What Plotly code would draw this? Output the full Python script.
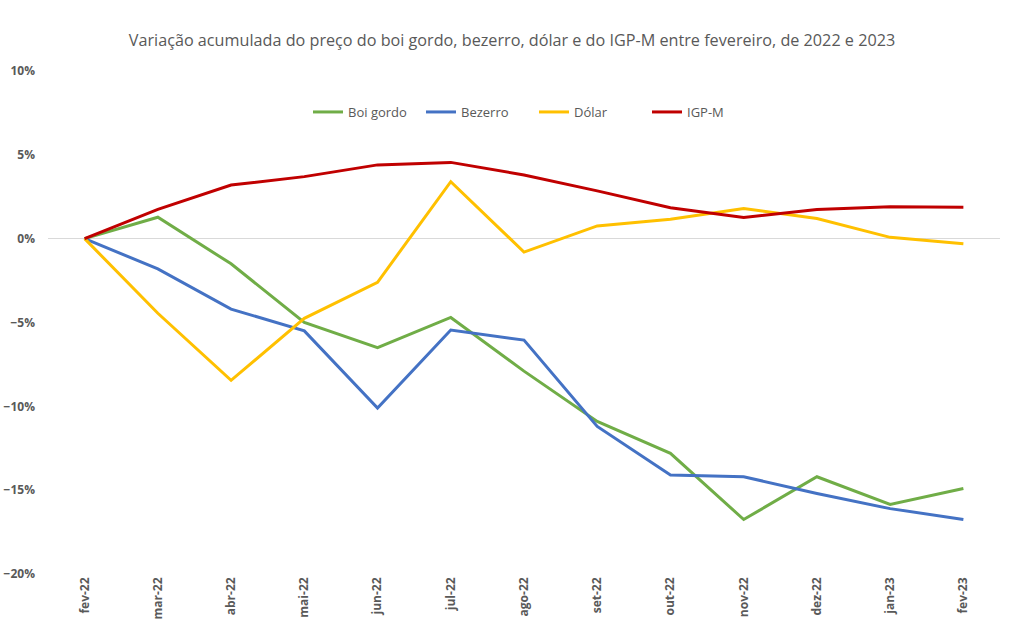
import plotly.graph_objects as go

categories = ["fev-22", "mar-22", "abr-22", "mai-22", "jun-22", "jul-22", "ago-22",
              "set-22", "out-22", "nov-22", "dez-22", "jan-23", "fev-23"]
boi_gordo = [0.0, 1.28, -1.5, -5.0, -6.5, -4.7, -7.9, -10.9, -12.8, -16.75, -14.2, -15.85, -14.9]
bezerro = [0.0, -1.8, -4.2, -5.5, -10.1, -5.45, -6.05, -11.2, -14.1, -14.2, -15.2, -16.1, -16.75]
dolar = [0.0, -4.45, -8.45, -4.75, -2.6, 3.4, -0.8, 0.76, 1.16, 1.8, 1.2, 0.08, -0.3]
igpm = [0.0, 1.75, 3.2, 3.7, 4.4, 4.55, 3.8, 2.85, 1.84, 1.27, 1.74, 1.9, 1.88]

series = [("Boi gordo", boi_gordo, "#70AD47"),
          ("Bezerro", bezerro, "#4472C4"),
          ("Dólar", dolar, "#FFC000"),
          ("IGP-M", igpm, "#C00000")]

fig = go.Figure()
for name, vals, color in series:
    fig.add_trace(go.Scatter(x=categories, y=[v / 100 for v in vals], mode="lines",
                             name=name, line=dict(color=color, width=3)))

font_family = "Open Sans, Noto Sans, sans-serif"
fig.update_layout(
    width=1013, height=630,
    margin=dict(l=48, r=13, t=71, b=56),
    paper_bgcolor="white", plot_bgcolor="white",
    title=dict(text="Variação acumulada do preço do boi gordo, bezerro, dólar e do IGP-M entre fevereiro, de 2022 e 2023",
               x=512 / 1013, xanchor="center", y=1 - 40 / 630, yanchor="middle",
               font=dict(family=font_family, size=16.2, color="#595959")),
    legend=dict(orientation="h", x=0.5 + 10 / 952, xanchor="center", y=1 - (112 - 71) / 503, yanchor="middle",
                font=dict(family=font_family, size=13, color="#595959"),
                bgcolor="rgba(0,0,0,0)", itemwidth=30, entrywidth=68, entrywidthmode="pixels"),
    showlegend=True,
)
fig.update_xaxes(type="category", range=[-0.5, 12.5], showgrid=False, showline=False,
                 zeroline=False, tickangle=-90, ticks="", automargin=False,
                 tickfont=dict(family=font_family, size=12, color="#595959", weight="bold"))
fig.update_yaxes(range=[-0.2, 0.1], dtick=0.05, tickformat=".0%", showgrid=False,
                 zeroline=True, zerolinecolor="#D9D9D9", zerolinewidth=1, showline=False,
                 ticks="", ticklabelstandoff=12, automargin=False,
                 tickfont=dict(family=font_family, size=12, color="#595959", weight="bold"))

fig.write_html("out.html")
